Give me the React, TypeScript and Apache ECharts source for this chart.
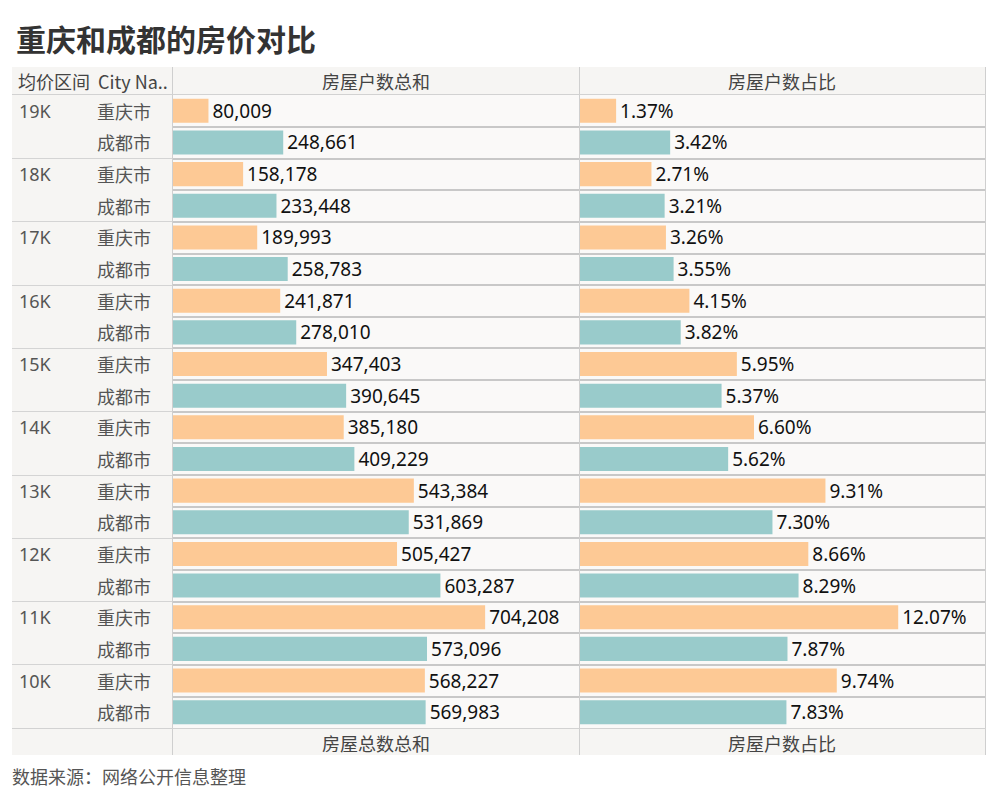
import React, { useEffect, useRef } from "react";
import * as echarts from "echarts";

const groups = ["19K", "18K", "17K", "16K", "15K", "14K", "13K", "12K", "11K", "10K"];
const cities = ["重庆市", "成都市"];
const cqCount = [80009, 158178, 189993, 241871, 347403, 385180, 543384, 505427, 704208, 568227];
const cdCount = [248661, 233448, 258783, 278010, 390645, 409229, 531869, 603287, 573096, 569983];
const cqPct = [1.37, 2.71, 3.26, 4.15, 5.95, 6.6, 9.31, 8.66, 12.07, 9.74];
const cdPct = [3.42, 3.21, 3.55, 3.82, 5.37, 5.62, 7.3, 8.29, 7.87, 7.83];

const headerLeft = ["均价区间", "City Na.."];
const headerTop = ["房屋户数总和", "房屋户数占比"];
const headerBottom = ["房屋总数总和", "房屋户数占比"];
const titleText = "重庆和成都的房价对比";
const sourceText = "数据来源：网络公开信息整理";

const ORANGE = "#fdc995";
const TEAL = "#99cbcb";

export default function App() {
  const ref = useRef<HTMLDivElement>(null);
  useEffect(() => {
    if (!ref.current) return;
    const chart = echarts.init(ref.current, undefined, { renderer: "svg" });

    const rowCities: string[] = [];
    const rowGroups: string[] = [];
    const countData: any[] = [];
    const pctData: any[] = [];
    groups.forEach((g, i) => {
      rowCities.push(cities[0], cities[1]);
      rowGroups.push(g, "");
      countData.push({ value: cqCount[i], itemStyle: { color: ORANGE } });
      countData.push({ value: cdCount[i], itemStyle: { color: TEAL } });
      pctData.push({ value: cqPct[i], itemStyle: { color: ORANGE } });
      pctData.push({ value: cdPct[i], itemStyle: { color: TEAL } });
    });

    const cjk = "'Noto Sans CJK SC', 'Noto Sans', sans-serif";
    const num = "'Noto Sans', 'Noto Sans CJK SC', sans-serif";
    const top = 95;
    const height = 633;

    const rowSplit = {
      show: true,
      showMinLine: false,
      showMaxLine: false,
      lineStyle: { color: "#c8c8c8", width: 2 },
    };

    const labelStyle = {
      show: true,
      position: "right",
      distance: 4,
      fontSize: 19,
      color: "#111",
      fontFamily: num,
    };

    const hdrText = (x: number, y: number, text: string, align: string) => ({
      type: "text",
      x,
      y,
      z: 20,
      style: {
        text,
        fill: "#444",
        fontSize: 18,
        fontFamily: cjk,
        textAlign: align,
        textVerticalAlign: "middle",
      },
    });

    const vline = (x: number) => ({
      type: "line",
      z: 20,
      shape: { x1: x, y1: 67, x2: x, y2: 755 },
      style: { stroke: "#cfcfcf", lineWidth: 1 },
    });
    const hline = (y: number) => ({
      type: "line",
      z: 20,
      shape: { x1: 12, y1: y, x2: 986, y2: y },
      style: { stroke: "#d2d2d2", lineWidth: 1 },
    });

    chart.setOption({
      animation: false,
      backgroundColor: "#ffffff",
      title: {
        text: titleText,
        left: 11,
        top: 18,
        textStyle: { fontSize: 30, fontWeight: "bold", color: "#333", fontFamily: cjk },
      },
      grid: [
        { left: 173, width: 406, top, height },
        { left: 580, width: 406, top, height },
        { left: 12, width: 160, top, height },
      ],
      xAxis: [
        { type: "value", gridIndex: 0, min: 0, max: 916000, show: false },
        { type: "value", gridIndex: 1, min: 0, max: 15.4, show: false },
        { type: "value", gridIndex: 2, min: 0, max: 1, show: false },
      ],
      yAxis: [
        {
          type: "category",
          gridIndex: 0,
          data: rowCities,
          inverse: true,
          axisLine: { show: false },
          axisTick: { show: false },
          axisLabel: { align: "left", margin: 76, fontSize: 18, color: "#555", fontFamily: cjk },
          splitLine: rowSplit,
        },
        {
          type: "category",
          gridIndex: 0,
          data: rowGroups,
          inverse: true,
          position: "left",
          offset: 0,
          axisLine: { show: false },
          axisTick: { show: false },
          axisLabel: {
            align: "left",
            margin: 154,
            fontSize: 18,
            color: "#555",
            fontFamily: num,
            interval: 0,
          },
          splitLine: { show: false },
        },
        {
          type: "category",
          gridIndex: 1,
          data: rowCities,
          inverse: true,
          axisLine: { show: false },
          axisTick: { show: false },
          axisLabel: { show: false },
          splitLine: rowSplit,
        },
        {
          type: "category",
          gridIndex: 2,
          data: groups,
          inverse: true,
          axisLine: { show: false },
          axisTick: { show: false },
          axisLabel: { show: false },
          splitLine: {
            show: true,
            showMinLine: false,
            showMaxLine: false,
            lineStyle: { color: "#d4d4d4", width: 1 },
          },
        },
      ],
      series: [
        {
          type: "bar",
          xAxisIndex: 0,
          yAxisIndex: 0,
          data: countData,
          barCategoryGap: "24%",
          label: {
            ...labelStyle,
            formatter: (p: any) => Number(p.value).toLocaleString("en-US"),
          },
        },
        {
          type: "bar",
          xAxisIndex: 1,
          yAxisIndex: 2,
          data: pctData,
          barCategoryGap: "24%",
          label: {
            ...labelStyle,
            formatter: (p: any) => Number(p.value).toFixed(2) + "%",
          },
        },
      ],
      graphic: [
        {
          type: "rect",
          z: -100,
          shape: { x: 12, y: 67, width: 974, height: 688 },
          style: { fill: "#f6f5f3" },
        },
        {
          type: "rect",
          z: -99,
          shape: { x: 173, y: 95, width: 813, height: 633 },
          style: { fill: "#faf9f8" },
        },
        vline(172.5),
        vline(579.5),
        vline(985.5),
        hline(94.5),
        hline(728.5),
        hdrText(18, 81, headerLeft[0], "left"),
        hdrText(98, 81, headerLeft[1], "left"),
        hdrText(376, 81, headerTop[0], "center"),
        hdrText(782, 81, headerTop[1], "center"),
        hdrText(376, 743, headerBottom[0], "center"),
        hdrText(782, 743, headerBottom[1], "center"),
        {
          type: "text",
          x: 12,
          y: 776,
          z: 20,
          style: {
            text: sourceText,
            fill: "#555",
            fontSize: 18,
            fontFamily: cjk,
            textAlign: "left",
            textVerticalAlign: "middle",
          },
        },
      ],
    });
    return () => chart.dispose();
  }, []);
  return (
    <div
      ref={ref}
      style={{ position: "fixed", left: 0, top: 0, width: 1000, height: 800 }}
    />
  );
}
